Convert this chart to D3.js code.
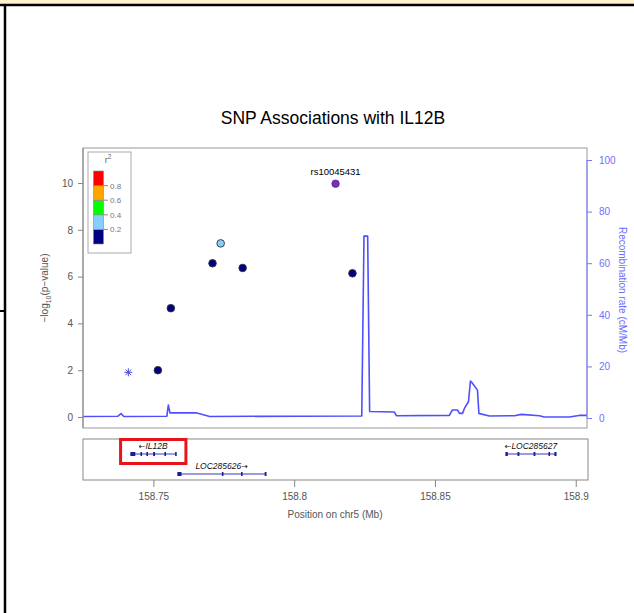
<!DOCTYPE html>
<html><head><meta charset="utf-8">
<script src="https://cdn.jsdelivr.net/npm/d3@7/dist/d3.min.js"></script>
<style>body{margin:0;background:#fff;}svg{display:block;font-family:"Liberation Sans",Arial,sans-serif;}</style>
</head><body>
<script>
// ---------- data ----------
const title = "SNP Associations with IL12B";
const snpPos   = [158.7739, 158.7710, 158.7817, 158.8207, 158.7562, 158.7516];
const snpLogP  = [7.42, 6.57, 6.37, 6.14, 4.65, 2.00];
const snpR2    = [0.25, 0.1, 0.1, 0.1, 0.1, 0.1];
const indexSnp = {name: "rs10045431", pos: 158.8147, logp: 9.97};
const noLdPos = [158.7411];
const noLdLogP = [1.91];
const recPos  = [158.7250,158.7374,158.7385,158.7395,158.7548,158.7553,158.7559,158.7651,158.7700,158.8020,158.8240,158.8248,158.8261,158.8268,158.8356,158.8363,158.8551,158.8562,158.8580,158.8587,158.8598,158.8605,158.8619,158.8626,158.8633,158.8651,158.8656,158.8693,158.8782,158.8807,158.8871,158.8888,158.8977,158.9012,158.9039];
const recRate = [0.6,0.7,1.7,0.6,0.7,5.0,2.0,2.0,0.6,0.7,0.8,70.5,70.5,2.5,2.3,0.9,1.0,3.1,3.1,1.8,1.8,3.8,6.3,14.3,13.5,10.8,1.8,0.8,0.9,1.4,0.9,0.4,0.4,1.0,1.0];
const leftTicks = [0,2,4,6,8,10];
const rightTicks = [0,20,40,60,80,100];
const xTicks = [158.75,158.8,158.85,158.9];
const xTickLabels = ["158.75","158.8","158.85","158.9"];
const legendBreaks = [0.2,0.4,0.6,0.8];
const legendColors = ["#000080","#87CEFA","#00FF00","#FFA500","#FF0000"];
const genes = [
  {name:"IL12B", strand:-1, start:158.7419, end:158.7580, row:0, exons:[[158.7420,158.7434],[158.7456,158.7458],[158.7477,158.7479],[158.7501,158.7504],[158.7541,158.7543],[158.7579,158.7581]]},
  {name:"LOC285626", strand:1, start:158.7586, end:158.7899, row:1, exons:[[158.7587,158.7598],[158.7745,158.7747],[158.7813,158.7815],[158.7897,158.7900]]},
  {name:"LOC285627", strand:-1, start:158.8752, end:158.8930, row:0, exons:[[158.8752,158.8757],[158.8795,158.8798],[158.8852,158.8855],[158.8905,158.8907],[158.8926,158.8930]]}
];
const highlightGene = "IL12B";

// ---------- layout ----------
const W = 634, H = 613;
const P = {l:83, r:587, t:148, b:428};
const G = {t:439, b:480};
const svg = d3.select("body").append("svg").attr("width",W).attr("height",H);

// frame decorations
svg.append("rect").attr("x",0).attr("y",0).attr("width",W).attr("height",4).attr("fill","#fff2cc");
svg.append("line").attr("x1",0).attr("x2",W).attr("y1",5).attr("y2",5).attr("stroke","#000").attr("stroke-width",2.5);
svg.append("line").attr("x1",5).attr("x2",5).attr("y1",5).attr("y2",H).attr("stroke","#000").attr("stroke-width",2.5);
svg.append("line").attr("x1",0).attr("x2",6).attr("y1",311).attr("y2",311).attr("stroke","#000").attr("stroke-width",2);

const x = d3.scaleLinear().domain([158.725,158.904]).range([P.l,P.r]);
const y = d3.scaleLinear().domain([0,10]).range([417,183]);
const yr = d3.scaleLinear().domain([0,100]).range([418,160]);
const color = d3.scaleThreshold().domain(legendBreaks).range(legendColors);

// title
svg.append("text").attr("x",333).attr("y",124).attr("text-anchor","middle")
  .attr("font-size",17.5).attr("fill","#000").text(title);

// panel box
svg.append("rect").attr("x",P.l).attr("y",P.t).attr("width",P.r-P.l).attr("height",P.b-P.t)
  .attr("fill","none").attr("stroke","#999").attr("stroke-width",1);

// recombination line
svg.append("clipPath").attr("id","pc").append("rect").attr("x",P.l).attr("y",P.t).attr("width",P.r-P.l).attr("height",P.b-P.t);
svg.append("path").datum(recPos.map((p,i)=>[p,recRate[i]]))
  .attr("clip-path","url(#pc)")
  .attr("d",d3.line().x(d=>x(d[0])).y(d=>yr(d[1])))
  .attr("fill","none").attr("stroke","#4f4fff").attr("stroke-width",1.6).attr("stroke-linejoin","round");

// left axis
const gl = svg.append("g").attr("transform",`translate(${P.l},0)`)
  .call(d3.axisLeft(y).tickValues(leftTicks).tickSize(5).tickPadding(5).tickFormat(d3.format("d")));
gl.select(".domain").attr("stroke","#888").attr("d",`M0,${P.t}V${P.b}`);
gl.selectAll(".tick line").attr("stroke","#888");
gl.selectAll(".tick text").attr("fill","#555").attr("font-size",10).attr("font-family","Liberation Sans, Arial");

// left title
const lt = svg.append("text").attr("transform","translate(48,288) rotate(-90)").attr("text-anchor","middle")
  .attr("font-size",10).attr("fill","#555");
lt.append("tspan").text("\u2212log");
lt.append("tspan").attr("font-size",7).attr("dy",2.5).text("10");
lt.append("tspan").attr("dy",-2.5).text("(p\u2212value)");

// right axis
const gr = svg.append("g").attr("transform",`translate(${P.r},0)`)
  .call(d3.axisRight(yr).tickValues(rightTicks).tickSize(5).tickPadding(7));
gr.select(".domain").attr("stroke","#7777ff").attr("d",`M0,${yr(0)}V${yr(100)}`);
gr.selectAll(".tick line").attr("stroke","#7777ff");
gr.selectAll(".tick text").attr("fill","#7070ff").attr("font-size",10).attr("font-family","Liberation Sans, Arial");
svg.append("text").attr("transform","translate(619,290) rotate(90)").attr("text-anchor","middle")
  .attr("font-size",10).attr("fill","#6a6aff").text("Recombination rate (cM/Mb)");

// points
svg.append("g").selectAll("circle").data(snpPos.map((p,i)=>({p,v:snpLogP[i],r2:snpR2[i]})))
  .join("circle").attr("cx",d=>x(d.p)).attr("cy",d=>y(d.v)).attr("r",3.8)
  .attr("fill",d=>color(d.r2)).attr("stroke","#333").attr("stroke-width",0.9);
svg.append("circle").attr("cx",x(indexSnp.pos)).attr("cy",y(indexSnp.logp)).attr("r",3.8)
  .attr("fill","#7a2dbf").attr("stroke","#4b1a7a").attr("stroke-width",0.6);
svg.append("text").attr("x",x(indexSnp.pos)).attr("y",y(indexSnp.logp)-9).attr("text-anchor","middle")
  .attr("font-size",9.5).attr("fill","#000").text(indexSnp.name);

// asterisk (no LD info)
noLdPos.forEach((p,i)=>{
  const cx = x(p), cy = y(noLdLogP[i]), s = 4;
  const g = svg.append("g").attr("stroke","#4a4ad0").attr("stroke-width",1);
  g.append("line").attr("x1",cx-s).attr("x2",cx+s).attr("y1",cy).attr("y2",cy);
  g.append("line").attr("x1",cx).attr("x2",cx).attr("y1",cy-s).attr("y2",cy+s);
  g.append("line").attr("x1",cx-s*0.7).attr("x2",cx+s*0.7).attr("y1",cy-s*0.7).attr("y2",cy+s*0.7);
  g.append("line").attr("x1",cx-s*0.7).attr("x2",cx+s*0.7).attr("y1",cy+s*0.7).attr("y2",cy-s*0.7);
});

// legend
svg.append("rect").attr("x",88).attr("y",152).attr("width",43).attr("height",101)
  .attr("fill","#fff").attr("stroke","#aaa").attr("stroke-width",1);
const lg = svg.append("text").attr("x",108).attr("y",163).attr("text-anchor","middle").attr("font-size",9).attr("fill","#666");
lg.append("tspan").text("r");
lg.append("tspan").attr("font-size",6.5).attr("dy",-4).text("2");
const ly = d3.scaleLinear().domain([0,1]).range([244,171]);
const legVals = [0,0.2,0.4,0.6,0.8];
svg.append("g").selectAll("rect").data(legVals).join("rect")
  .attr("x",93.5).attr("y",(d,i)=>ly(d+0.2)).attr("width",10).attr("height",(d)=>ly(d)-ly(d+0.2))
  .attr("fill",(d,i)=>legendColors[i]).attr("stroke","#888").attr("stroke-width",0.6);
const lt2 = svg.append("g");
legendBreaks.forEach(b=>{
  lt2.append("line").attr("x1",103.5).attr("x2",108).attr("y1",ly(b)).attr("y2",ly(b)).attr("stroke","#888");
  lt2.append("text").attr("x",110).attr("y",ly(b)+3).attr("font-size",8).attr("fill","#777").text(b.toFixed(1));
});

// gene panel
svg.append("rect").attr("x",P.l).attr("y",G.t).attr("width",P.r-P.l+1).attr("height",G.b-G.t)
  .attr("fill","none").attr("stroke","#888").attr("stroke-width",1);
const rowY = [454, 474];
genes.forEach(g=>{
  const gy = rowY[g.row];
  svg.append("line").attr("x1",x(g.start)).attr("x2",x(g.end)).attr("y1",gy).attr("y2",gy)
    .attr("stroke","#3a3ab8").attr("stroke-width",1);
  g.exons.forEach(e=>{
    svg.append("rect").attr("x",x(e[0])-0.5).attr("y",gy-2).attr("width",Math.max(1.5,x(e[1])-x(e[0])+1)).attr("height",4)
      .attr("fill","#1a1a9a");
  });
  const mid = (x(g.start)+x(g.end))/2;
  const t = svg.append("text").attr("x",mid).attr("y",gy-5).attr("text-anchor","middle")
    .attr("font-size",8.5).attr("font-style","italic").attr("fill","#111");
  if (g.strand<0){
    t.append("tspan").attr("font-family","DejaVu Sans").attr("font-style","normal").attr("font-size",8).text("\u2190");
    t.append("tspan").text(g.name);
  } else {
    t.append("tspan").text(g.name);
    t.append("tspan").attr("font-family","DejaVu Sans").attr("font-style","normal").attr("font-size",8).text("\u2192");
  }
  if (g.name===highlightGene){
    svg.append("rect").attr("x",x(g.start)-10).attr("y",439.5).attr("width",x(g.end)-x(g.start)+20).attr("height",24)
      .attr("fill","none").attr("stroke","#e8141c").attr("stroke-width",3);
  }
});

// x axis
const gx = svg.append("g").attr("transform",`translate(0,${G.b})`)
  .call(d3.axisBottom(x).tickValues(xTicks).tickSize(7).tickPadding(6).tickFormat((d,i)=>xTickLabels[i]));
gx.select(".domain").remove();
gx.selectAll(".tick line").attr("stroke","#888");
gx.selectAll(".tick text").attr("fill","#555").attr("font-size",10).attr("font-family","Liberation Sans, Arial");
svg.append("text").attr("x",335).attr("y",518).attr("text-anchor","middle").attr("font-size",10).attr("fill","#555")
  .text("Position on chr5 (Mb)");
</script>
</body></html>
